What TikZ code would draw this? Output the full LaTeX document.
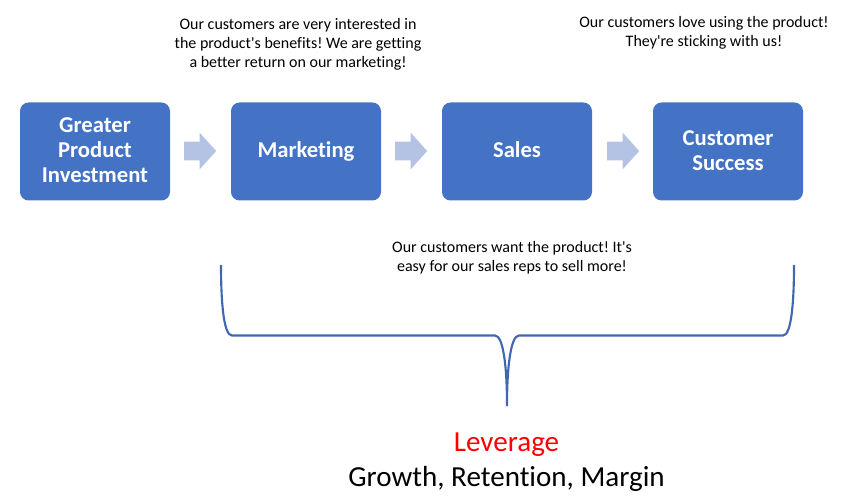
\documentclass[tikz,border=0pt]{standalone}
\usepackage{fontspec}
\setmainfont{Carlito}[Ligatures=NoCommon]
\usetikzlibrary{shapes.arrows}
\definecolor{boxblue}{HTML}{4472C4}
\definecolor{arrowblue}{HTML}{B4C3E3}
\definecolor{bracecol}{HTML}{4068B0}
\newdimen\pxu \pxu=0.75pt
\newcommand{\topstrut}{\rule{0pt}{17pt}}
\newcommand{\botstrut}{\rule[-5.75pt]{0pt}{5.75pt}}
\newcommand{\botstrutdeep}{\rule[-7.25pt]{0pt}{7.25pt}}
\tikzset{
  stagebox/.style={draw=none,fill=boxblue,rounded corners=6.5pt,minimum width=150\pxu,minimum height=98\pxu,text=white,font=\fontsize{17}{18.75}\selectfont\bfseries,align=center,inner sep=0pt},
  flowarrow/.style={shape=single arrow,fill=arrowblue,draw=none,minimum height=32\pxu,single arrow head extend=9\pxu,single arrow tip angle=96,inner sep=0pt},
  note/.style={font=\fontsize{12}{14.3}\selectfont\frenchspacing,align=center,inner sep=0pt,text=black},
  bracket/.style={draw=bracecol,line width=1.6pt},
}
\begin{document}
\begin{tikzpicture}[x=0.75pt,y=-0.75pt]
\useasboundingbox (0,0) rectangle (841,502);
\node[stagebox] (inv) at (95,151.5) {\topstrut Greater\\Product\\Investment\botstrutdeep};
\node[stagebox] (mkt) at (306,151.5) {\topstrut Marketing\botstrutdeep};
\node[stagebox] (sal) at (517,151.5) {\topstrut Sales\botstrutdeep};
\node[stagebox] (cs) at (728,151.5) {\topstrut Customer\\Success\botstrutdeep};
\node[flowarrow] (a1) at (196,151) {\rule{0pt}{18\pxu}};
\node[flowarrow] (a2) at (407,151) {\rule{0pt}{18\pxu}};
\node[flowarrow] (a3) at (619,151) {\rule{0pt}{18\pxu}};
\node[note] (n1) at (298,44.5) {Our customers are very interested in\\the product\textquotesingle s benefits! We are getting\\a better return on our marketing!};
\node[note] (n2) at (704,32.5) {Our customers love using the product!\\They\textquotesingle re sticking with us!};
\node[note] (n3) at (512,258) {Our customers want the product! It\textquotesingle s\\easy for our sales reps to sell more!};
\coordinate (bl) at (221,265);
\coordinate (br) at (794,265);
\coordinate (bt) at (507,405.5);
\draw[bracket,line join=round] (bl) .. controls (221,305) and (224,335.5) .. (232,335.5)
  -- (495,335.5) .. controls (503,335.5) and (507,365) .. (bt)
  .. controls (507,365) and (511,335.5) .. (519,335.5)
  -- (783,335.5) .. controls (791,335.5) and (794,305) .. (br);
\node[inner sep=0pt,text=red,font=\fontsize{21.8}{24}\selectfont] (lev) at (506.5,445) {Leverage};
\node[inner sep=0pt,text=black,font=\fontsize{21.8}{24}\selectfont] (grm) at (506.5,479) {Growth, Retention, Margin};
\end{tikzpicture}
\end{document}
